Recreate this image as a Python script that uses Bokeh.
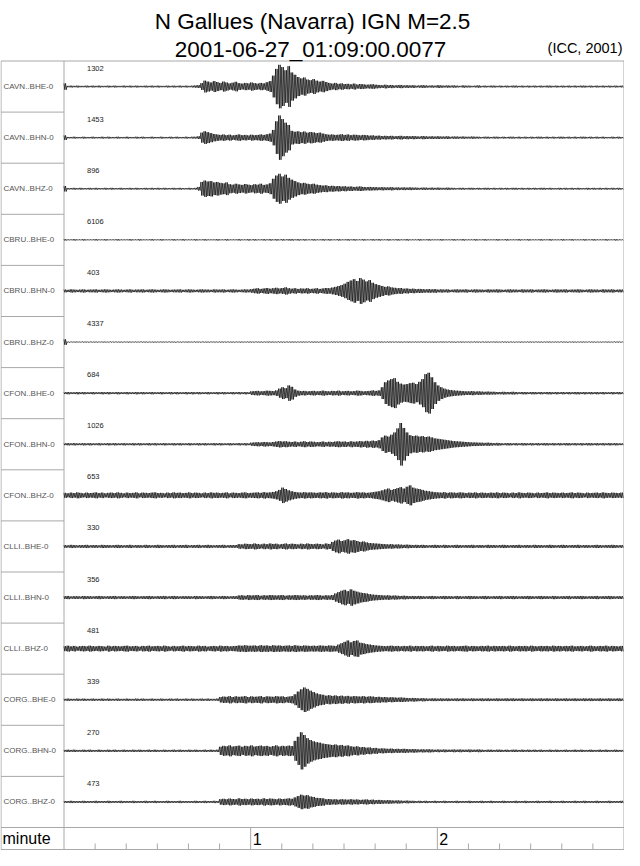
from bokeh.plotting import figure
from bokeh.models import Range1d
from bokeh.core.properties import value
from bokeh.embed import file_html
from bokeh.resources import INLINE

# ---------------- data ----------------
title_line1 = "N Gallues (Navarra) IGN M=2.5"
title_line2 = "2001-06-27_01:09:00.0077"
credit = "(ICC, 2001)"
time_label = "minute"
minute_ticks = [1, 2]
minor_tick_step_s = 10
duration_s = 180

channels = ["CAVN..BHE-0", "CAVN..BHN-0", "CAVN..BHZ-0",
            "CBRU..BHE-0", "CBRU..BHN-0", "CBRU..BHZ-0",
            "CFON..BHE-0", "CFON..BHN-0", "CFON..BHZ-0",
            "CLLI..BHE-0", "CLLI..BHN-0", "CLLI..BHZ-0",
            "CORG..BHE-0", "CORG..BHN-0", "CORG..BHZ-0"]
peak_counts = [1302, 1453, 896, 6106, 403, 4337, 684, 1026, 653,
               330, 356, 481, 339, 270, 473]

# one value per second: peak trace amplitude (percent of plotting full scale)
seconds = list(range(180))

cavn_bhe = [14,3,4,3,4,3,3,4,3,4, 3,4,3,3,4,3,4,3,3,4,
            3,4,3,4,3,3,4,3,4,3, 4,3,3,4,3,4,3,4,3,4,
            3,4,5,6,15,26,22,18,24,20, 16,22,18,14,17,21,15,13,16,14,
            18,15,13,16,14,19,24,48,78,96, 86,72,90,62,52,42,36,40,31,28,
            33,26,22,25,20,16,13,16,12,14, 11,12,10,13,9,11,10,8,9,10,
            8,7,6,8,6,7,5,6,7,5, 6,5,6,4,5,6,5,4,5,4,
            6,5,4,5,4,5,4,3,5,4, 4,3,4,5,3,4,3,4,4,3,
            4,3,4,3,4,4,3,4,3,4, 3,4,3,4,3,4,4,3,4,3,
            4,3,4,3,4,3,4,4,3,4, 3,4,3,4,3,4,3,4,3,4]

cavn_bhn = [10,3,3,4,3,3,4,3,3,4, 3,3,4,3,4,3,3,4,3,3,
            4,3,3,4,3,4,3,3,4,3, 3,4,3,3,4,3,4,3,3,4,
            3,4,4,6,22,28,24,20,16,14, 12,14,11,13,10,12,14,11,12,10,
            13,11,12,14,12,15,18,34,72,98, 82,66,56,30,26,28,24,27,22,25,
            23,20,22,18,15,13,14,12,13,15, 12,14,11,13,12,10,12,11,9,10,
            8,9,7,8,7,8,6,7,8,6, 7,6,7,6,5,7,6,5,6,5,
            6,5,5,6,4,5,5,4,5,4, 4,5,4,4,3,4,4,3,4,4,
            3,4,3,4,4,3,4,3,4,3, 4,3,4,4,3,4,3,4,3,4,
            4,3,4,3,4,3,4,4,3,4, 3,4,3,4,3,3,4,3,4,3]

cavn_bhz = [12,3,3,4,3,4,3,3,4,3, 4,3,3,4,3,4,3,3,4,3,
            3,4,3,4,3,3,4,3,4,3, 4,3,4,3,3,4,3,4,3,3,
            4,3,4,8,30,36,32,34,28,30, 26,24,28,20,18,22,19,17,21,18,
            16,20,18,22,17,19,24,44,58,66, 54,62,48,40,34,28,24,26,22,20,
            22,18,16,14,15,12,13,11,12,10, 11,9,10,8,9,10,8,7,8,7,
            7,6,7,6,6,7,5,6,5,6, 5,6,5,5,4,5,5,4,5,4,
            5,4,4,5,4,4,3,4,4,3, 4,4,3,4,3,4,4,3,4,3,
            4,3,4,3,4,4,3,4,3,4, 3,4,3,4,4,3,4,3,3,4,
            3,4,3,4,3,4,3,3,4,3, 4,3,4,3,4,3,4,3,4,3]

cbru_bhe = [3,2,2,3,2,2,3,2,2,2, 3,2,2,3,2,2,2,3,2,2,
            2,3,2,2,3,2,2,2,3,2, 2,3,2,2,2,3,2,2,3,2,
            2,2,3,2,2,3,2,2,2,3, 2,2,3,2,2,2,3,2,2,3,
            2,3,2,2,3,2,3,2,3,2, 3,2,3,3,2,3,2,3,2,2,
            3,2,2,3,2,3,2,2,3,2, 2,3,2,3,2,2,3,2,2,3,
            2,3,2,2,3,2,2,3,2,2, 3,2,2,2,3,2,2,3,2,2,
            2,3,2,2,2,3,2,2,3,2, 2,2,3,2,2,3,2,2,2,3,
            2,2,3,2,2,2,3,2,2,3, 2,2,2,3,2,2,3,2,2,2,
            3,2,2,3,2,2,2,3,2,2, 3,2,2,2,3,2,2,3,2,2]

cbru_bhn = [6,5,7,6,5,6,7,5,6,6, 7,5,6,7,6,5,6,7,6,5,
            6,7,5,6,6,7,5,6,7,6, 5,6,7,6,5,6,6,7,5,6,
            7,6,5,6,7,6,6,5,7,6, 6,7,5,6,7,6,5,6,7,6,
            8,10,12,9,11,13,10,12,14,11, 13,16,12,10,12,9,11,10,12,9,
            10,12,9,11,13,12,15,18,22,26, 32,40,46,52,44,57,50,42,48,36,
            30,26,22,18,20,16,14,12,13,10, 11,9,10,8,9,8,7,8,7,8,
            6,7,6,7,5,6,7,6,6,7, 5,6,7,6,6,5,7,6,6,7,
            6,5,6,7,6,6,5,7,6,6, 7,5,6,6,7,6,5,6,7,6,
            6,7,5,6,6,7,6,5,6,7, 6,6,5,7,6,6,7,5,6,6]

cbru_bhz = [12,2,1,2,2,1,2,2,1,2, 2,1,2,2,1,2,1,2,2,1,
            2,2,1,2,1,2,2,1,2,2, 1,2,2,1,2,2,1,2,1,2,
            2,1,2,2,1,2,2,1,2,1, 2,2,1,2,2,1,2,2,1,2,
            2,1,2,2,1,2,2,2,1,2, 2,1,2,2,2,1,2,2,1,2,
            2,2,1,2,2,1,2,2,1,2, 2,1,2,2,1,2,2,1,2,2,
            1,2,2,1,2,2,1,2,2,1, 2,2,1,2,1,2,2,1,2,2,
            1,2,2,1,2,2,1,2,2,1, 2,1,2,2,1,2,2,1,2,2,
            1,2,2,1,2,1,2,2,1,2, 2,1,2,2,1,2,2,1,2,1,
            2,2,1,2,2,1,2,2,1,2, 2,1,2,1,2,2,1,2,2,1]

cfon_bhe = [4,5,4,4,5,4,5,4,4,5, 4,4,5,4,5,4,4,5,4,4,
            5,4,4,5,4,5,4,4,5,4, 4,5,4,4,5,4,5,4,4,5,
            4,5,4,5,4,4,5,4,4,5, 4,5,4,4,5,4,5,4,5,4,
            8,9,10,8,9,11,10,9,12,20, 26,22,34,28,16,11,9,10,8,9,
            10,8,9,11,9,8,10,9,11,8, 9,10,8,9,11,10,8,9,10,12,
            10,12,26,48,56,62,66,50,42,38, 40,44,46,40,50,62,84,90,70,48,
            34,26,20,16,14,12,11,10,9,8, 8,9,7,8,7,6,7,6,6,5,
            5,6,5,5,6,5,4,5,5,4, 5,5,4,5,4,5,5,4,5,4,
            5,4,5,4,5,5,4,5,4,5, 4,5,4,5,4,4,5,4,5,4]

cfon_bhn = [4,5,4,5,4,4,5,4,5,4, 4,5,4,4,5,4,5,4,4,5,
            4,4,5,4,5,4,4,5,4,5, 4,4,5,4,4,5,4,5,4,4,
            5,4,4,5,4,5,4,4,5,4, 5,4,4,5,4,4,5,4,5,4,
            7,8,9,8,10,9,8,10,12,14, 12,13,11,10,12,9,11,13,10,12,
            11,9,10,12,9,11,10,12,13,11, 12,10,13,11,12,14,12,15,13,16,
            14,18,30,38,34,42,52,70,94,72, 52,40,36,38,34,36,32,34,30,26,
            24,22,20,18,16,14,13,12,11,10, 9,8,8,7,7,6,7,6,5,6,
            5,4,5,5,4,5,4,5,5,4, 5,4,5,4,5,5,4,5,4,5,
            4,5,5,4,5,4,5,4,5,5, 4,5,4,5,4,5,4,5,4,4]

cfon_bhz = [11,9,12,10,13,11,9,12,10,11, 13,10,12,9,11,12,10,13,11,9,
            12,10,11,13,9,12,11,10,12,13, 10,11,9,12,10,13,11,12,10,11,
            13,10,12,11,9,12,10,13,11,12, 10,11,13,9,12,11,10,12,13,10,
            11,12,13,11,14,12,13,15,18,24, 34,28,22,18,15,13,12,14,12,13,
            12,11,13,12,14,11,13,12,11,14, 12,13,11,12,14,12,13,11,12,14,
            16,18,22,26,30,24,28,32,36,30, 38,44,34,30,28,24,20,18,16,14,
            13,12,14,11,13,12,11,13,12,10, 12,11,13,10,12,11,10,12,11,13,
            10,12,11,9,12,10,13,11,10,12, 11,9,12,10,11,13,10,12,11,10,
            12,10,11,13,10,12,11,9,12,10, 11,12,10,13,11,10,12,11,10,12]

clli_bhe = [6,5,7,6,5,6,6,7,5,6, 6,5,7,6,6,5,6,7,6,5,
            6,7,5,6,6,5,7,6,5,6, 7,6,5,6,6,7,5,6,6,7,
            5,6,6,7,5,6,7,6,5,6, 6,7,5,6,6,6,10,9,12,11,
            10,13,11,9,12,10,13,11,12,9, 11,13,10,12,11,9,12,10,13,11,
            10,12,11,9,13,11,20,26,30,24, 27,32,26,28,24,20,22,18,15,14,
            13,12,11,10,9,10,8,9,8,7, 8,7,6,7,6,7,6,5,6,7,
            6,5,7,6,5,6,7,6,5,6, 6,7,5,6,6,5,7,6,6,5,
            6,7,6,5,6,6,7,5,6,6, 5,7,6,6,5,6,7,6,5,6,
            7,6,5,6,6,7,5,6,6,5, 6,7,6,5,6,6,7,6,5,6]

clli_bhn = [6,7,5,6,6,5,7,6,6,5, 6,7,6,5,6,6,7,5,6,6,
            5,6,7,6,5,6,6,7,6,5, 6,6,7,5,6,7,6,5,6,6,
            6,5,7,6,6,5,6,7,6,5, 6,7,6,5,6,6,9,10,8,11,
            9,10,11,8,10,9,11,10,9,10, 11,8,10,9,11,10,9,10,8,10,
            9,11,10,8,10,9,11,18,24,30, 34,28,36,30,26,22,20,18,15,13,
            12,11,10,9,10,8,9,8,7,8, 7,6,7,6,7,6,5,6,7,6,
            5,6,7,6,6,5,7,6,5,6, 7,6,6,5,6,7,6,5,6,6,
            7,5,6,6,7,6,5,6,6,7, 6,5,6,7,6,6,5,7,6,5,
            6,6,7,5,6,6,7,6,5,6, 6,7,5,6,6,7,6,5,6,6]

clli_bhz = [11,13,10,12,9,11,12,10,13,11, 10,12,11,9,13,10,12,11,10,12,
            13,10,11,12,9,12,11,13,10,11, 12,10,13,11,9,12,10,11,13,10,
            12,11,10,13,11,12,9,11,12,10, 13,11,12,10,11,12,14,13,15,13,
            13,14,12,15,13,14,12,15,13,14, 12,13,14,12,15,13,12,14,13,12,
            13,12,14,13,12,14,13,12,18,24, 30,36,28,34,36,26,24,20,18,16,
            14,13,12,11,12,13,11,12,10,12, 11,13,10,12,11,12,10,11,13,10,
            12,11,10,13,11,12,10,11,12,13, 10,12,11,10,12,11,13,10,12,11,
            11,12,10,13,11,10,12,11,12,10, 13,11,10,12,11,12,10,13,11,12,
            10,12,11,13,10,11,12,10,11,13, 11,10,12,11,13,10,12,11,10,12]

corg_bhe = [4,5,4,4,5,4,5,4,4,5, 4,4,5,4,5,4,4,5,4,4,
            5,4,4,5,4,5,4,4,5,4, 4,5,4,4,5,4,5,4,4,5,
            4,5,4,4,5,4,5,4,4,5, 12,14,13,16,12,15,13,14,16,12,
            15,13,14,16,12,15,14,13,16,14, 15,12,14,16,24,36,46,54,48,40,
            34,28,24,22,18,20,17,19,16,18, 15,17,14,16,15,14,16,13,15,14,
            12,13,11,12,10,11,10,9,10,9, 8,7,8,7,6,7,6,5,6,6,
            5,6,5,6,5,5,6,5,6,5, 5,6,5,5,6,5,6,5,5,6,
            5,5,6,5,6,5,5,6,5,5, 6,5,5,6,5,6,5,5,6,5,
            5,6,5,5,6,5,5,6,5,6, 5,5,6,5,5,6,5,5,6,5]

corg_bhn = [4,5,4,5,4,4,5,4,5,4, 4,5,4,4,5,4,5,4,4,5,
            4,4,5,4,5,4,4,5,4,5, 4,4,5,4,4,5,4,5,4,4,
            5,4,5,4,4,5,4,5,4,5, 18,22,20,24,19,21,23,18,22,20,
            24,19,21,23,20,22,18,21,24,19, 22,20,23,21,44,62,82,70,56,48,
            42,38,36,32,30,28,26,28,24,26, 22,24,20,18,20,16,17,14,15,12,
            13,10,11,10,9,10,8,9,8,9, 8,7,8,7,6,7,6,7,6,5,
            6,5,6,5,5,6,5,6,5,5, 6,5,5,6,5,4,5,5,4,5,
            5,4,5,4,5,5,4,5,4,5, 4,5,4,5,4,4,5,4,5,4,
            4,5,4,4,5,4,5,4,4,5, 4,4,5,4,5,4,4,5,4,4]

corg_bhz = [4,4,5,4,4,4,5,4,4,4, 5,4,4,4,5,4,4,4,5,4,
            4,4,5,4,4,4,5,4,4,5, 4,4,4,5,4,4,4,5,4,4,
            4,4,5,4,4,5,4,4,5,4, 12,14,12,15,13,12,16,13,14,12,
            15,13,14,12,16,13,15,14,12,15, 13,14,16,14,20,26,32,28,30,24,
            22,18,17,16,12,13,11,12,10,12, 11,10,12,10,11,9,10,11,9,10,
            8,9,8,7,8,7,6,7,6,5, 6,5,5,4,5,4,5,4,4,5,
            4,4,5,4,4,4,5,4,4,4, 5,4,4,4,5,4,4,5,4,4,
            4,5,4,4,4,5,4,4,5,4, 4,4,5,4,4,4,5,4,4,4,
            5,4,4,4,5,4,4,5,4,4, 4,5,4,4,4,5,4,4,4,5]

traces = [cavn_bhe, cavn_bhn, cavn_bhz, cbru_bhe, cbru_bhn, cbru_bhz,
          cfon_bhe, cfon_bhn, cfon_bhz, clli_bhe, clli_bhn, clli_bhz,
          corg_bhe, corg_bhn, corg_bhz]

# ---------------- layout (pixels inside the figure) ----------------
W, H = 624, 850
LEFT_PX, LABEL_PX, RIGHT_PX = 0.5, 63.5, 623.5
TOP_PX, ROW_PX, MIN_ROW_PX = 60.5, 51.1, 22.0
PPS = (RIGHT_PX - LABEL_PX) / duration_s
AMP = 23.0 / 51.93 / 100.0          # 100 % -> ~23 px of a 52 px row
CYCLES = 2                          # drawn oscillations per one-second value

FONT = value("Liberation Sans")
BORDER = "#a8a8a8"


def X(px):
    return (px - LABEL_PX) / PPS


def Y(py):
    return 0.5 - (py - TOP_PX) / ROW_PX


n = len(channels)
p = figure(width=W, height=H, x_range=Range1d(X(0), X(W)), y_range=Range1d(Y(H), Y(0)),
           min_border=0, toolbar_location=None, output_backend="svg",
           x_axis_location=None, y_axis_location=None)
p.xgrid.visible = False
p.ygrid.visible = False
p.outline_line_color = None
p.background_fill_color = "white"
p.border_fill_color = "white"

y_top = 0.5
y_rows_bottom = 0.5 - n
y_bottom = Y(TOP_PX + n * ROW_PX + MIN_ROW_PX)
x_left, x_right = X(LEFT_PX), X(RIGHT_PX)

# frame lines
fx0, fy0, fx1, fy1 = [], [], [], []


def seg(a, b, c, d):
    fx0.append(a); fy0.append(b); fx1.append(c); fy1.append(d)


seg(x_left, y_top, x_right, y_top)
seg(x_left, y_bottom, x_right, y_bottom)
seg(x_left, y_top, x_left, y_bottom)
seg(x_right, y_top, x_right, y_bottom)
seg(0, y_top, 0, y_bottom)
seg(x_left, y_rows_bottom, x_right, y_rows_bottom)
for k in range(1, n):
    seg(x_left, 0.5 - k, 0, 0.5 - k)
for m in minute_ticks:
    seg(60 * m, y_rows_bottom, 60 * m, y_bottom)
tick_h = 6.0 / ROW_PX
for t in range(minor_tick_step_s, duration_s, minor_tick_step_s):
    if t % 60:
        seg(t, y_bottom, t, y_bottom + tick_h)
p.segment(fx0, fy0, fx1, fy1, line_color=BORDER, line_width=1)

# seismogram traces: each one-second value drawn as CYCLES full oscillations
step = 1.0 / (2 * CYCLES)
xs_all, ys_all = [], []
for i, amps in enumerate(traces):
    base = -i
    xs, ys = [], []
    for t, a in zip(seconds, amps):
        h = a * AMP
        for k in range(2 * CYCLES):
            xs.append(t + k * step)
            ys.append(base + (h if k % 2 == 0 else -h))
    xs_all.append(xs)
    ys_all.append(ys)
p.multi_line(xs_all, ys_all, line_color="black", line_width=0.8, line_alpha=0.85)

# channel names and peak counts
p.text(x=[X(LEFT_PX + 2.5)] * n, y=[-i for i in range(n)], text=channels,
       text_font=FONT, text_font_size="8px", text_color="#555555",
       text_baseline="middle", text_align="left")
p.text(x=[X(LABEL_PX + 23)] * n, y=[0.5 - i - 7.0 / ROW_PX for i in range(n)],
       text=[str(c) for c in peak_counts],
       text_font=FONT, text_font_size="7.5px", text_color="#222222",
       text_baseline="middle", text_align="left")

# time scale row
y_min_mid = (y_rows_bottom + y_bottom) / 2
p.text(x=[X(LEFT_PX + 1.5)], y=[y_min_mid], text=[time_label], text_font=FONT,
       text_font_size="16px", text_color="black", text_baseline="middle", text_align="left")
p.text(x=[60 * m + 2.0 / PPS for m in minute_ticks], y=[y_min_mid] * len(minute_ticks),
       text=[str(m) for m in minute_ticks], text_font=FONT, text_font_size="16px",
       text_color="black", text_baseline="middle", text_align="left")

# titles
p.text(x=[X(312)], y=[Y(21)], text=[title_line1], text_font=FONT, text_font_size="22.5px",
       text_color="black", text_baseline="alphabetic", text_align="center")
p.text(x=[X(310)], y=[Y(49)], text=[title_line2], text_font=FONT, text_font_size="22.5px",
       text_color="black", text_baseline="alphabetic", text_align="center")
p.text(x=[X(622)], y=[Y(47)], text=[credit], text_font=FONT, text_font_size="14.5px",
       text_color="black", text_baseline="alphabetic", text_align="right")

open("out.html", "w").write(file_html(p, INLINE))
